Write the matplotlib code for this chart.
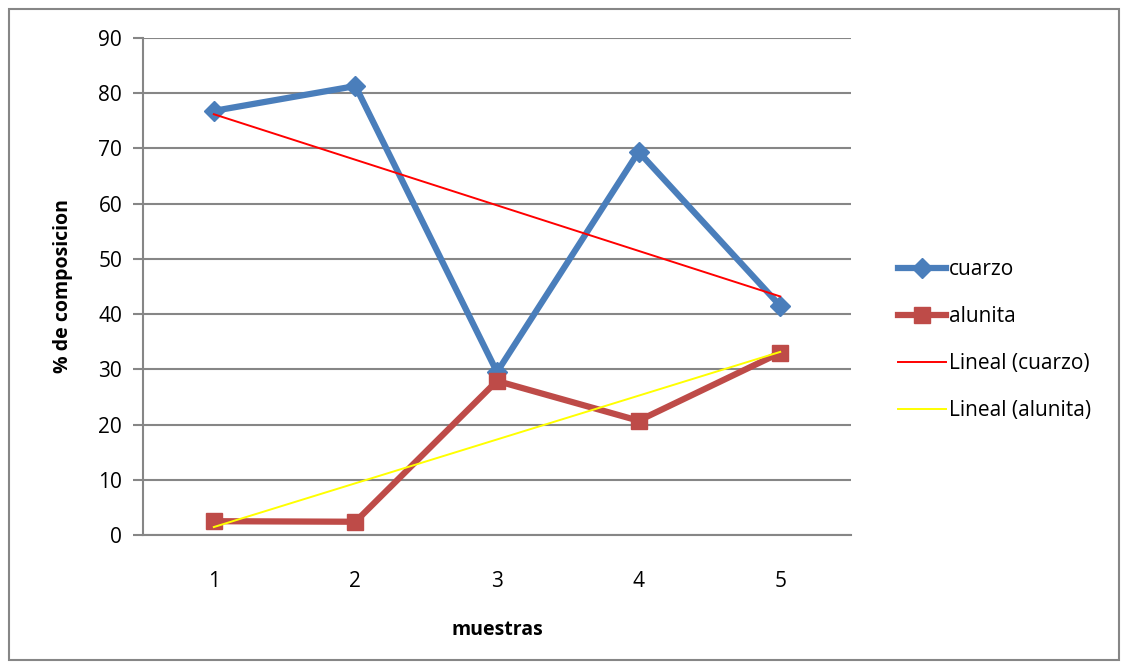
import numpy as np
import matplotlib.pyplot as plt
from matplotlib.patches import Rectangle

plt.rcParams['font.family'] = ['Open Sans', 'DejaVu Sans']

# Data
muestras = [1, 2, 3, 4, 5]
cuarzo = [76.8, 81.3, 29.5, 69.4, 41.5]
alunita = [2.5, 2.4, 27.9, 20.7, 33.0]
yticks = [0, 10, 20, 30, 40, 50, 60, 70, 80, 90]

grid_col = '#868686'

fig = plt.figure(figsize=(11.26, 6.68), dpi=100)
ax = fig.add_axes([143 / 1126, 1 - 535 / 668, (851 - 143) / 1126, (535 - 38) / 668])

# Outer chart border
fig.patches.append(Rectangle((9 / 1126, 8 / 668), 1110 / 1126, 651 / 668,
                             transform=fig.transFigure, fill=False,
                             edgecolor='#868686', linewidth=1.5))

x = np.array(muestras)
ax.plot(x, cuarzo, color='#4a7ebb', linewidth=4.5, marker='D', markersize=10,
        label='cuarzo', zorder=3)
ax.plot(x, alunita, color='#be4b48', linewidth=4.5, marker='s', markersize=11,
        label='alunita', zorder=4)

# Linear trend lines (least squares)
p1 = np.polyfit(x, cuarzo, 1)
p2 = np.polyfit(x, alunita, 1)
ax.plot(x[[0, -1]], np.polyval(p1, x[[0, -1]]), color='#ff0000', linewidth=1.4,
        label='Lineal (cuarzo)', zorder=5)
ax.plot(x[[0, -1]], np.polyval(p2, x[[0, -1]]), color='#ffff00', linewidth=1.4,
        label='Lineal (alunita)', zorder=5)

ax.set_xlim(0.5, 5.5)
ax.set_ylim(0, 90)
ax.set_yticks(yticks)
ax.set_xticks(muestras)
ax.grid(axis='y', color=grid_col, linewidth=1.5)
ax.set_axisbelow(True)

for s in ['top', 'right']:
    ax.spines[s].set_visible(False)
for s in ['left', 'bottom']:
    ax.spines[s].set_color(grid_col)
    ax.spines[s].set_linewidth(1.5)

ax.tick_params(axis='y', length=7, width=1.5, color=grid_col, labelsize=15, pad=8)
ax.tick_params(axis='x', length=0, labelsize=15, pad=26)

ax.set_xlabel('muestras', fontsize=14, fontweight='bold', labelpad=20)
ax.set_ylabel('% de composicion', fontsize=14, fontweight='bold', labelpad=18)

leg = ax.legend(loc='center left', bbox_to_anchor=(1.04, 0.392), frameon=False,
                fontsize=15, handlelength=2.3, handletextpad=0.15, labelspacing=1.25)

plt.savefig('out.png', dpi=100)
